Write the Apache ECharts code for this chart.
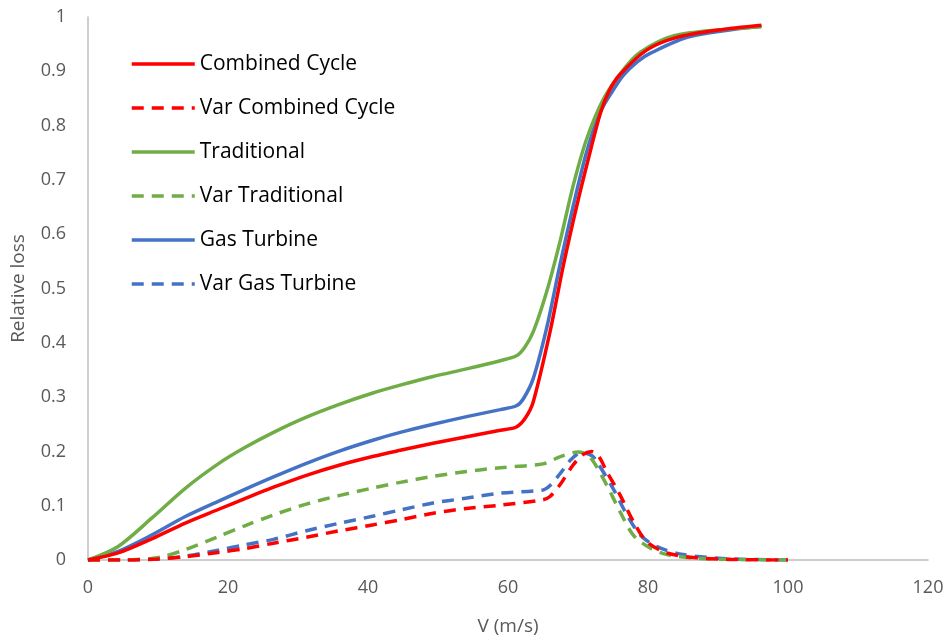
<!DOCTYPE html>
<html><head><meta charset="utf-8">
<script src="https://cdn.jsdelivr.net/npm/echarts@6/dist/echarts.min.js"></script>
<style>html,body{margin:0;padding:0;background:#fff}#c{width:951px;height:641px}</style>
</head><body><div id="c"></div>
<script>
const ccX = [0, 4.3, 9.1, 13.9, 18.6, 22.4, 26.5, 31.2, 36, 40.8, 44.6, 49.3, 54.1, 58.9, 61.2, 62.5, 63.6, 66, 67.9, 69.8, 71.7, 73.2, 74.5, 76, 79.8, 84, 90, 96.2];
const ccY = [0, .013, .039, .068, .093, .113, .134, .156, .175, .191, .202, .215, .227, .239, .245, .262, .291, .420, .542, .651, .750, .823, .865, .894, .939, .962, .976, .985];
const gtX = [0, 4.3, 9.1, 13.9, 18.6, 22.4, 26.5, 31.2, 36, 40.8, 44.6, 49.3, 54.1, 58.9, 61.2, 62.2, 63.6, 65.5, 67.4, 69.3, 71.2, 73.1, 75, 76.5, 78.5, 80.3, 86, 96.2];
const gtY = [0, .016, .046, .080, .108, .130, .153, .178, .201, .221, .235, .250, .264, .277, .284, .297, .334, .426, .542, .651, .750, .823, .865, .893, .918, .933, .964, .983];
const trX = [0, 4.3, 9.1, 13.9, 18.6, 22.4, 26.5, 31.2, 36, 40.8, 44.6, 49.3, 54.1, 58.9, 61.2, 62.4, 63.6, 65.5, 67.4, 69.3, 71.2, 73.6, 76.5, 78.9, 83.6, 90.8, 96.2];
const trY = [0, .025, .077, .132, .177, .207, .235, .263, .287, .308, .322, .338, .352, .367, .376, .392, .420, .493, .585, .689, .774, .848, .903, .935, .965, .977, .982];
const vccX = [0, 5, 10, 13.9, 18.6, 22.4, 26.5, 31.2, 36, 40.8, 44.6, 49.3, 54.1, 58.9, 65, 66, 67.4, 69.3, 70.7, 71.9, 73, 74.1, 76, 77.9, 79.8, 82.7, 87, 92, 100];
const vccY = [0, 0, .002, .006, .014, .021, .031, .042, .054, .065, .074, .086, .095, .101, .111, .117, .138, .175, .194, .200, .190, .163, .120, .071, .034, .013, .004, .001, 0];
const vgtX = [0, 5, 10, 13.9, 18.6, 22.4, 26.5, 31.2, 36, 40.8, 44.6, 49.3, 54.1, 58.9, 65, 66, 67.5, 69, 70.5, 72, 72.7, 75, 77, 78.9, 81.2, 85, 92, 100];
const vgtY = [0, 0, .002, .007, .018, .028, .038, .054, .068, .081, .092, .105, .114, .123, .129, .137, .160, .185, .198, .192, .181, .132, .083, .046, .025, .010, .002, 0];
const vtrX = [0, 5, 9, 10.9, 13.9, 18.6, 22.4, 26.5, 31.2, 36, 40.8, 44.6, 49.3, 54.1, 58.9, 65, 67.4, 70, 71.7, 74.1, 76, 77.9, 80.3, 82.7, 87, 92, 100];
const vtrY = [0, 0, .003, .007, .019, .043, .063, .083, .103, .119, .133, .143, .154, .163, .170, .177, .190, .199, .190, .138, .089, .046, .022, .010, .003, .001, 0];

const names = ['Combined Cycle','Var Combined Cycle','Traditional','Var Traditional','Gas Turbine','Var Gas Turbine'];
const colors = ['#FF0000','#FF0000','#70AD47','#70AD47','#4472C4','#4472C4'];
const xs = [ccX, vccX, trX, vtrX, gtX, vgtX];
const ys = [ccY, vccY, trY, vtrY, gtY, vgtY];
const dashed = [false,true,false,true,false,true];

const font = '"Open Sans", "Noto Sans", sans-serif';
const series = names.map((n,i)=>({
  name:n, type:'line', showSymbol:false, symbol:'none', smooth:0.3,
  data: xs[i].map((x,j)=>[x, ys[i][j]]),
  lineStyle:{color:colors[i], width:3.5, type: dashed[i]?[12,8]:'solid', cap:'butt'},
  itemStyle:{color:colors[i]},
  z: 10 - i
}));

const chart = echarts.init(document.getElementById('c'), null, {renderer:'canvas'});
chart.setOption({
  animation:false,
  backgroundColor:'#fff',
  grid:{left:88, right:23, top:17, bottom:79, containLabel:false},
  legend:{
    orient:'vertical', left:125, top:48, itemWidth:63, itemHeight:14, itemGap:22,
    itemStyle:{opacity:0},
    lineStyle:{width:3.5},
    textStyle:{fontFamily:font, fontSize:21, color:'#000', lineHeight:22},
    data: names
  },
  xAxis:{
    type:'value', min:0, max:120, interval:20,
    name:'V (m/s)', nameLocation:'middle', nameGap:57,
    nameTextStyle:{fontFamily:font, fontSize:19, color:'#595959'},
    axisLine:{show:true, lineStyle:{color:'#BFBFBF', width:1.5}},
    axisTick:{show:false}, splitLine:{show:false},
    axisLabel:{fontFamily:font, fontSize:18, color:'#595959', margin:19}
  },
  yAxis:{
    type:'value', min:0, max:1, interval:0.1,
    name:'Relative loss', nameLocation:'middle', nameGap:60, nameRotate:90,
    nameTextStyle:{fontFamily:font, fontSize:19, color:'#595959'},
    axisLine:{show:true, lineStyle:{color:'#BFBFBF', width:1.5}},
    axisTick:{show:false}, splitLine:{show:false},
    axisLabel:{fontFamily:font, fontSize:18, color:'#595959', margin:22,
      formatter:v=>String(Math.round(v*10)/10)}
  },
  series: series
});
</script></body></html>
